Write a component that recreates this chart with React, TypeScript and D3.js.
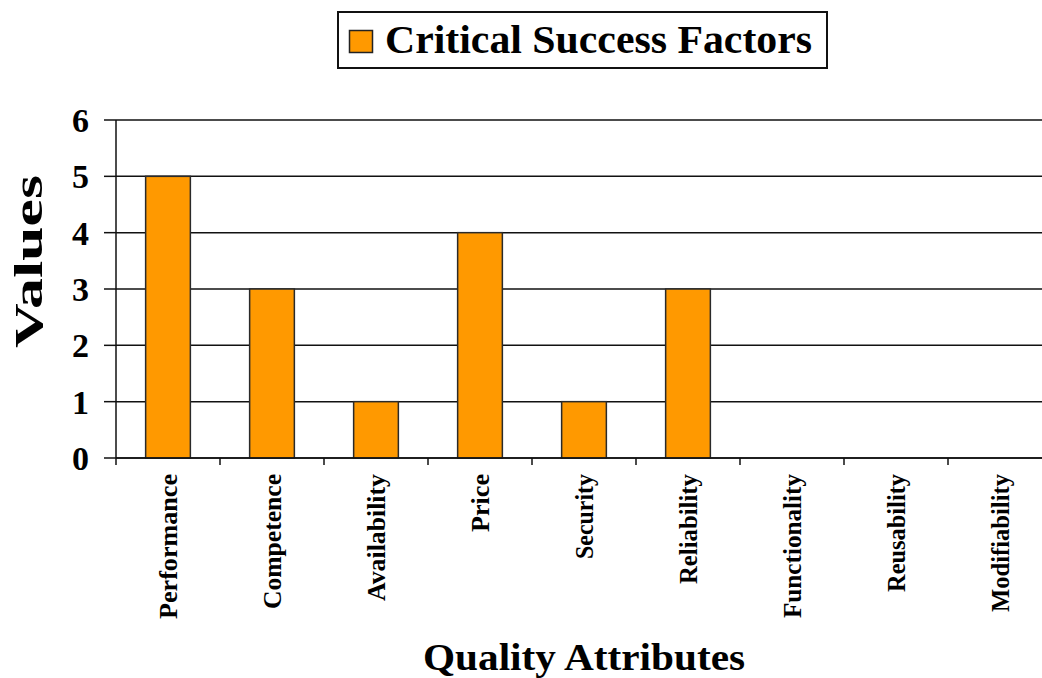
import React from "react";
import * as d3 from "d3";

const categories = ["Performance", "Competence", "Availability", "Price", "Security", "Reliability", "Functionality", "Reusability", "Modifiability"];
const values = [5, 3, 1, 4, 1, 3, 0, 0, 0];
const yTicks = [0, 1, 2, 3, 4, 5, 6];
const labelLengths = [145, 135, 127, 58, 85, 110, 144, 118, 138];
const seriesName = "Critical Success Factors";
const xTitle = "Quality Attributes";
const yTitle = "Values";

const W = 1042;
const H = 678;
const FONT = "'Liberation Serif', 'Times New Roman', serif";

export default function App() {
  const left = 116;
  const bandW = 104;
  const x = d3.scaleBand<string>().domain(categories).range([left, left + bandW * categories.length]).paddingInner(0).paddingOuter(0);
  const y = d3.scaleLinear().domain([0, 6]).range([458, 120]);
  const barW = x.bandwidth() * 0.43;
  const bounds = categories.map((c) => x(c) as number);

  return (
    <svg width={W} height={H} style={{ position: "absolute", left: 0, top: 0, background: "#fff" }} fontFamily={FONT}>
      <rect x={0} y={0} width={W} height={H} fill="#fff" />
      {/* legend */}
      <rect x={338} y={12} width={489} height={56} fill="#fff" stroke="#111" strokeWidth={2} />
      <rect x={349.5} y={30.5} width={23} height={22} fill="#FF9900" stroke="#222" strokeWidth={1.5} />
      <text x={385} y={53} fontSize={40} fontWeight="bold" textLength={427} lengthAdjust="spacingAndGlyphs" fill="#000">{seriesName}</text>

      {/* gridlines */}
      {yTicks.map((t) => (
        <line key={"g" + t} x1={left} x2={W} y1={y(t)} y2={y(t)} stroke="#111" strokeWidth={1.5} />
      ))}
      {/* y ticks */}
      {yTicks.map((t) => (
        <line key={"yt" + t} x1={104} x2={left} y1={y(t)} y2={y(t)} stroke="#111" strokeWidth={1.5} />
      ))}
      {yTicks.map((t) => (
        <text key={"yl" + t} x={89} y={y(t) + 12} fontSize={34} fontWeight="bold" textAnchor="end" fill="#000">{t}</text>
      ))}
      {/* bars */}
      {categories.map((c, i) => values[i] > 0 ? (
        <rect key={"b" + c} x={(x(c) as number) + (x.bandwidth() - barW) / 2} y={y(values[i])} width={barW} height={y(0) - y(values[i])} fill="#FF9900" stroke="#2a2a2a" strokeWidth={1.5} />
      ) : null)}
      {/* axes */}
      <line x1={left} x2={left} y1={y(6)} y2={y(0)} stroke="#111" strokeWidth={1.5} />
      <line x1={left} x2={W} y1={y(0)} y2={y(0)} stroke="#111" strokeWidth={1.5} />
      {bounds.map((b, i) => (
        <line key={"xt" + i} x1={b} x2={b} y1={y(0)} y2={y(0) + 7} stroke="#111" strokeWidth={1.5} />
      ))}
      {/* category labels */}
      {categories.map((c, i) => {
        const cx = (x(c) as number) + x.bandwidth() / 2 + 9;
        return (
          <text key={"xl" + c} transform={`translate(${cx},474) rotate(-90)`} fontSize={26} fontWeight="bold" textAnchor="end" textLength={labelLengths[i]} lengthAdjust="spacingAndGlyphs" fill="#000">{c}</text>
        );
      })}
      {/* axis titles */}
      <text transform={`translate(42,261.5) rotate(-90)`} fontSize={39} fontWeight="bold" textAnchor="middle" textLength={173} lengthAdjust="spacingAndGlyphs" fill="#000">{yTitle}</text>
      <text x={584} y={670} fontSize={38} fontWeight="bold" textAnchor="middle" textLength={322} lengthAdjust="spacingAndGlyphs" fill="#000">{xTitle}</text>
    </svg>
  );
}
